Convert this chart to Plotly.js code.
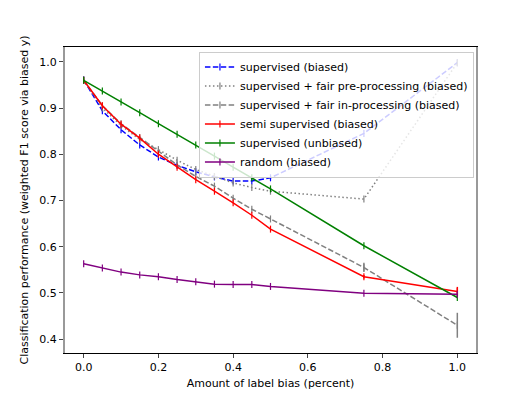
<!DOCTYPE html>
<html>
<head>
<meta charset="utf-8">
<script src="https://cdn.plot.ly/plotly-3.0.1.min.js"></script>
<style>body{margin:0;padding:0;background:#fff;}</style>
</head>
<body>
<div id="chart" style="width:528px;height:396px;"></div>
<script>
// label bias levels
const bias = [0, 0.05, 0.1, 0.15, 0.2, 0.25, 0.3, 0.35, 0.4, 0.45, 0.5, 0.75, 1.0];

const supBiased   = [0.961, 0.894, 0.853, 0.82, 0.794, 0.776, 0.762, 0.751, 0.742, 0.742, 0.749, 0.845, 0.998];
const fairPre     = [0.96, 0.90, 0.862, 0.832, 0.81, 0.787, 0.767, 0.752, 0.738, 0.728, 0.72, 0.703, 0.998];
const fairIn      = [0.96, 0.905, 0.866, 0.836, 0.806, 0.777, 0.752, 0.731, 0.705, 0.681, 0.66, 0.555, 0.43];
const semiSup     = [0.96, 0.905, 0.865, 0.835, 0.80, 0.772, 0.745, 0.72, 0.695, 0.668, 0.638, 0.535, 0.503];
const supUnbiased = [0.96, 0.937, 0.913, 0.89, 0.866, 0.843, 0.82, 0.796, 0.772, 0.749, 0.725, 0.602, 0.49];
const randomB     = [0.563, 0.554, 0.545, 0.539, 0.535, 0.529, 0.524, 0.519, 0.518, 0.518, 0.514, 0.499, 0.497];

const fairInErr = [0, 0, 0, 0, 0, 0, 0, 0, 0, 0, 0, 0.01, 0.027];
const semiErr   = [0, 0, 0, 0, 0, 0, 0, 0, 0, 0, 0, 0.004, 0.01];

function series(name, y, color, dash, err) {
  let t = {
    x: bias, y: y, name: name, type: 'scatter', mode: 'lines+markers',
    line: {color: color, width: 1.5, dash: dash},
    marker: {symbol: 'line-ns', size: 5, color: color, line: {color: color, width: 1.2}}
  };
  if (err) t.error_y = {type: 'data', array: err, visible: true, color: color, thickness: 1.5, width: 0};
  return t;
}

let data = [
  series('supervised (biased)', supBiased, '#0000ff', '5.5px,2.4px'),
  series('supervised + fair pre-processing (biased)', fairPre, '#808080', '1.5px,2.5px'),
  series('supervised + fair in-processing (biased)', fairIn, '#808080', '5.5px,2.4px', fairInErr),
  series('semi supervised (biased)', semiSup, '#ff0000', 'solid', semiErr),
  series('supervised (unbiased)', supUnbiased, '#008000', 'solid'),
  series('random (biased)', randomB, '#800080', 'solid')
];

let layout = {
  width: 528, height: 396,
  margin: {l: 65, r: 52, t: 47, b: 43},
  paper_bgcolor: '#fff', plot_bgcolor: '#fff',
  font: {family: 'DejaVu Sans', size: 11, color: '#000'},
  showlegend: true,
  legend: {
    x: 0.995, xanchor: 'right', y: 0.985, yanchor: 'top',
    bgcolor: 'rgba(255,255,255,0.8)', bordercolor: '#cccccc', borderwidth: 1,
    font: {size: 11}, tracegroupgap: 0
  },
  xaxis: {
    range: [-0.05, 1.05], tickvals: [0, 0.2, 0.4, 0.6, 0.8, 1.0],
    ticktext: ['0.0', '0.2', '0.4', '0.6', '0.8', '1.0'],
    ticks: 'outside', ticklen: 4, showgrid: false, zeroline: false,
    showline: true, linecolor: '#000', linewidth: 1, mirror: true,
    title: {text: 'Amount of label bias (percent)', font: {size: 11}, standoff: 6}
  },
  yaxis: {
    range: [0.37, 1.032], tickvals: [0.4, 0.5, 0.6, 0.7, 0.8, 0.9, 1.0],
    ticktext: ['0.4', '0.5', '0.6', '0.7', '0.8', '0.9', '1.0'],
    ticks: 'outside', ticklen: 4, showgrid: false, zeroline: false,
    showline: true, linecolor: '#999', linewidth: 2, mirror: true,
    title: {text: 'Classification performance (weighted F1 score via biased y)', font: {size: 11}, standoff: 8}
  }
};

Plotly.newPlot('chart', data, layout, {displayModeBar: false});
</script>
</body>
</html>
